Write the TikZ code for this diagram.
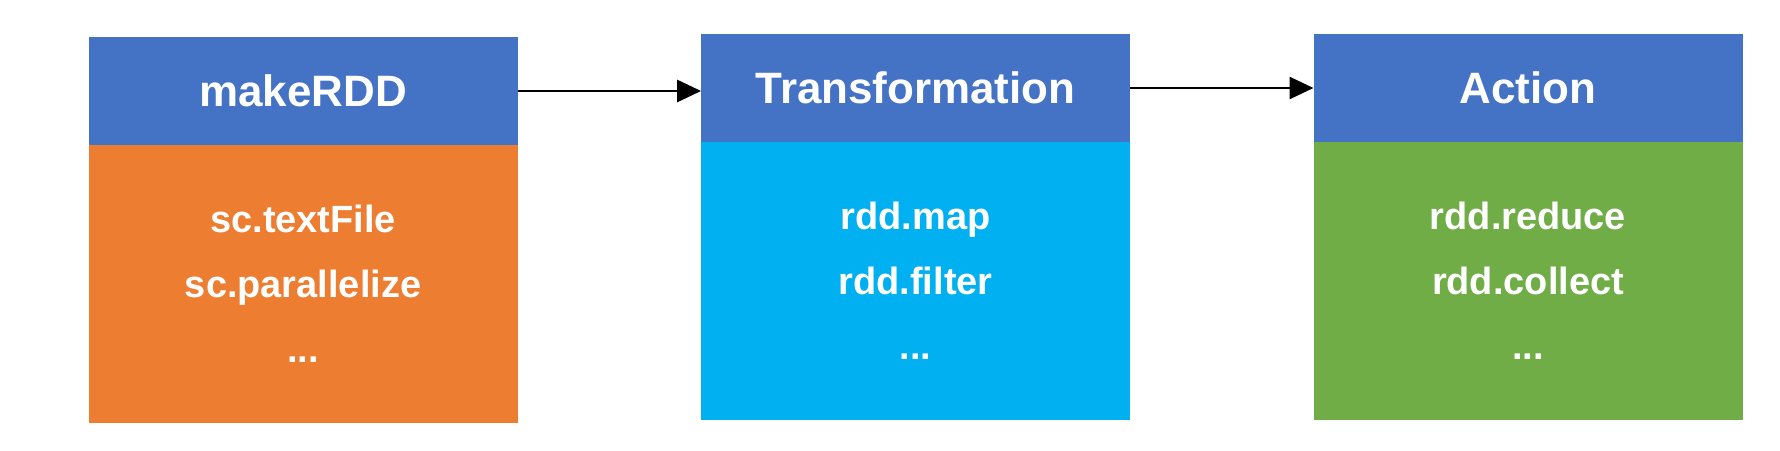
\documentclass[tikz,border=0pt]{standalone}
\usepackage{fontspec}
\setmainfont{Liberation Sans}
\usetikzlibrary{arrows.meta,positioning}
\definecolor{HeadBlue}{HTML}{4472C4}
\definecolor{MakeOrange}{HTML}{ED7D31}
\definecolor{TransCyan}{HTML}{00B0F0}
\definecolor{ActGreen}{HTML}{70AD47}

\tikzset{
    headbox/.style={fill=HeadBlue, text=white, font=\fontsize{12.5}{15}\selectfont\bfseries,
        minimum width=4.29cm, minimum height=1.08cm, inner sep=0pt, outer sep=0pt},
    bodybox/.style={text=white, font=\fontsize{10.8}{18.5}\selectfont\bfseries, align=center,
        minimum width=4.29cm, minimum height=2.78cm, inner sep=0pt, outer sep=0pt},
    flow/.style={line width=0.8pt, -{Triangle[length=0.24cm,width=0.22cm]}}
}

\begin{document}
\begin{tikzpicture}
    \useasboundingbox (0,0) rectangle (17.8,4.5);
    \fill[white] (0,0) rectangle (17.8,4.5);

    % stage headers
    \node[headbox] (make) at (3.031,3.59) {makeRDD};
    \node[headbox] (trans) at (9.156,3.62) {Transformation};
    \node[headbox] (act) at (15.28,3.62) {Action};

    % stage contents
    \node[bodybox, fill=MakeOrange, below=0pt of make] (makebody) {sc.textFile\\sc.parallelize\\...};
    \node[bodybox, fill=TransCyan, below=0pt of trans] (transbody) {rdd.map\\rdd.filter\\...};
    \node[bodybox, fill=ActGreen, below=0pt of act] (actbody) {rdd.reduce\\rdd.collect\\...};

    % flow between stages
    \draw[flow] (make.east) -- (make.east -| trans.west);
    \draw[flow] (trans.east) -- (trans.east -| act.west);
\end{tikzpicture}
\end{document}
